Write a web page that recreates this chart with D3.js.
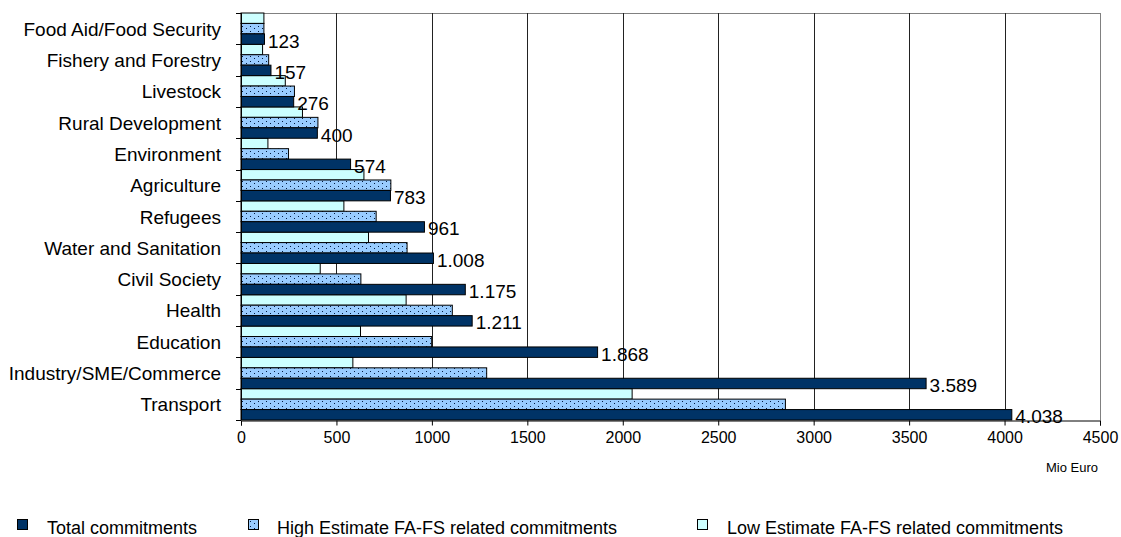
<!DOCTYPE html>
<html>
<head>
<meta charset="utf-8">
<script src="https://cdn.jsdelivr.net/npm/d3@7"></script>
<style>
  html, body { margin: 0; padding: 0; background: #fff; }
  svg { display: block; font-family: "Liberation Sans", Arial, sans-serif; }
</style>
</head>
<body>
<svg id="chart" width="1121" height="537"></svg>
<script>
const categories = ["Food Aid/Food Security", "Fishery and Forestry", "Livestock", "Rural Development",
  "Environment", "Agriculture", "Refugees", "Water and Sanitation", "Civil Society", "Health",
  "Education", "Industry/SME/Commerce", "Transport"];
const totalCommitments = [123, 157, 276, 400, 574, 783, 961, 1008, 1175, 1211, 1868, 3589, 4038];
const highEstimate = [120, 145, 280, 403, 249, 785, 708, 870, 628, 1107, 999, 1287, 2852];
const lowEstimate = [120, 113, 232, 322, 141, 644, 539, 668, 415, 865, 626, 586, 2049];
const xTicks = [0, 500, 1000, 1500, 2000, 2500, 3000, 3500, 4000, 4500];
const seriesNames = ["Total commitments", "High Estimate FA-FS related commitments", "Low Estimate FA-FS related commitments"];
const axisUnit = "Mio Euro";

(function () {
const svg = d3.select("#chart");
const pLeft = 241, pRight = 1100, pTop = 13, pBottom = 420;

const x = d3.scaleLinear().domain([0, 4500]).range([pLeft, pRight]);
const y = d3.scaleBand().domain(categories).range([pTop, pBottom]).padding(0);
const sub = d3.scaleBand().domain(["low", "high", "total"]).range([0, y.bandwidth()]).padding(0);

const fmt = d3.formatLocale({decimal: ",", thousands: ".", grouping: [3], currency: ["", "€"]}).format(",d");

const defs = svg.append("defs");
const pat = defs.append("pattern").attr("id", "dots").attr("patternUnits", "userSpaceOnUse")
  .attr("width", 8).attr("height", 5);
pat.append("rect").attr("width", 8).attr("height", 5).attr("fill", "#99CCFF");
pat.append("rect").attr("x", 2).attr("y", 1).attr("width", 1).attr("height", 1).attr("fill", "#001a40");
pat.append("rect").attr("x", 6).attr("y", 3).attr("width", 1).attr("height", 1).attr("fill", "#001a40");

svg.append("line").attr("x1", pLeft).attr("x2", pRight).attr("y1", pTop + 0.5).attr("y2", pTop + 0.5)
  .attr("stroke", "#808080");
svg.append("g").selectAll("line").data(xTicks.slice(1)).join("line")
  .attr("x1", d => Math.round(x(d)) + 0.5).attr("x2", d => Math.round(x(d)) + 0.5)
  .attr("y1", pTop).attr("y2", pBottom)
  .attr("stroke", d => d === 4500 ? "#808080" : "#222");

const series = [
  {key: "low", values: lowEstimate, fill: "#CCFFFF"},
  {key: "high", values: highEstimate, fill: "url(#dots)"},
  {key: "total", values: totalCommitments, fill: "#003366"}
];

series.forEach(s => {
  svg.append("g").selectAll("rect").data(categories).join("rect")
    .attr("x", x(0))
    .attr("y", (c) => y(c) + sub(s.key))
    .attr("width", (c, i) => x(s.values[i]) - x(0))
    .attr("height", sub.bandwidth())
    .attr("fill", s.fill)
    .attr("stroke", "#000")
    .attr("stroke-width", 1);
});

svg.append("g").selectAll("text").data(categories).join("text")
  .attr("x", (c, i) => x(totalCommitments[i]) + 3.5)
  .attr("y", c => y(c) + sub("total") + sub.bandwidth() / 2 + 8.5)
  .attr("font-size", 19)
  .attr("fill", "#000")
  .text((c, i) => fmt(totalCommitments[i]));

const yAxis = svg.append("g").attr("transform", `translate(${pLeft},0)`);
yAxis.append("line").attr("x1", 0.5).attr("x2", 0.5).attr("y1", pTop).attr("y2", pBottom).attr("stroke", "#000");
const bounds = categories.map(c => y(c)).concat([pBottom]);
yAxis.selectAll("line.tk").data(bounds).join("line").attr("class", "tk")
  .attr("x1", -5).attr("x2", 0).attr("y1", d => Math.round(d) + 0.5).attr("y2", d => Math.round(d) + 0.5)
  .attr("stroke", "#000");
yAxis.selectAll("text").data(categories).join("text")
  .attr("x", -20)
  .attr("y", c => y(c) + y.bandwidth() / 2 + 7)
  .attr("text-anchor", "end")
  .attr("font-size", 19)
  .attr("fill", "#000")
  .text(c => c);

const xAxis = d3.axisBottom(x).tickValues(xTicks).tickSize(5).tickPadding(6).tickFormat(d3.format("d"));
const gx = svg.append("g").attr("transform", `translate(0,${pBottom + 0.5})`).call(xAxis);
gx.select(".domain").attr("stroke", "#000");
gx.selectAll(".tick line").attr("stroke", "#000");
gx.selectAll(".tick text").attr("font-size", 16).attr("fill", "#000").attr("font-family", "Liberation Sans, Arial, sans-serif");

svg.append("text").attr("x", 1098).attr("y", 472).attr("text-anchor", "end")
  .attr("font-size", 13).attr("fill", "#000").text(axisUnit);

const markerX = [17, 248, 697];
const textX = [47, 277, 727];
const legendFills = ["#003366", "url(#dots)", "#CCFFFF"];
const lg = svg.append("g");
seriesNames.forEach((n, i) => {
  lg.append("rect").attr("x", markerX[i] + 0.5).attr("y", 519.5).attr("width", 10).attr("height", 10)
    .attr("fill", legendFills[i]).attr("stroke", "#000");
  lg.append("text").attr("x", textX[i]).attr("y", 534).attr("font-size", 18).attr("fill", "#000").text(n);
});
})();
</script>
</body>
</html>
